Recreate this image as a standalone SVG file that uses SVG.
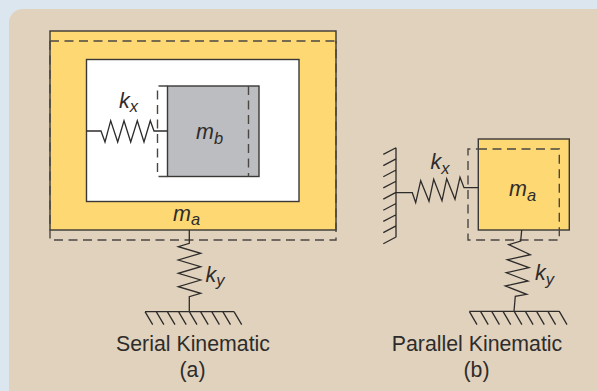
<svg xmlns="http://www.w3.org/2000/svg" width="597" height="391" viewBox="0 0 597 391">
<style>
.s{fill:none;stroke:#2e2c2b;stroke-width:1.3;stroke-linejoin:miter}
.d{fill:none;stroke:#4a4743;stroke-width:1.4;stroke-dasharray:9 5.500}
.b{stroke:#3a3836;stroke-width:1.4}
.t{font-family:"Liberation Sans",Arial,sans-serif;font-size:21.300px;fill:#2e2c2b;text-anchor:middle}
.i{font-family:"Liberation Sans",Arial,sans-serif;font-style:italic;font-size:21.500px;fill:#2e2c2b}
.u{font-size:16.500px}
</style>
<rect width="597" height="391" fill="#dce6ef"/>
<rect x="9" y="9" width="620" height="393" rx="14" fill="#e0d2bd"/>
<g id="mass-a-serial">
<rect x="50" y="31" width="286" height="199" fill="#fed873" class="b"/>
<rect x="86.500" y="59.500" width="212.500" height="142" fill="#fff" class="b"/>
<text class="i" x="173" y="220.500">m<tspan class="u" dy="4.500">a</tspan></text>
</g>
<g id="mass-b">
<rect x="167.500" y="86" width="91.500" height="90.500" fill="#bcbdc0" class="b"/>
<text class="i" x="196" y="138.500">m<tspan class="u" dy="5.500">b</tspan></text>
</g>
<g id="mass-a-parallel">
<rect x="478.300" y="139" width="91" height="91" fill="#fed873" class="b"/>
<text class="i" x="509" y="196">m<tspan class="u" dy="5">a</tspan></text>
</g>
<g id="connectors">
<path class="d" d="M50 41H336M50 41V240H336V41"/>
<path class="d" d="M167.500 86H157.500V176.500H167.500M248.500 86V176.500"/>
<path class="d" d="M478 149H559.300V240H468V149H478"/>
<path class="s" d="M86.700 131H101L105 142L110.700 120.700L117.700 142L124 120.700L130.700 142L137.300 120.700L144 142L150.300 120.700L154 131H167"/>
<path class="s" d="M189.300 230V243.300L178.300 246.700L200.700 253.300L178.300 260L200.700 266.700L178.300 273.300L200.700 280L178.300 286.700L200.700 293.300L189.300 296.700V311.700"/>
<path class="s" d="M145 311.700H234M145 311.700l7.700 13M156.200 311.700l7.700 13M167.300 311.700l7.700 13M178.500 311.700l7.700 13M189.300 311.700l7.700 13M200.500 311.700l7.700 13M211.700 311.700l7.700 13M222.800 311.700l7.700 13M234 311.700l7.700 13"/>
<path class="s" d="M396 147.700V237.300M396 147.700l-12.700 6.700M396 158.900l-12.700 6.700M396 170l-12.700 6.700M396 181.200l-12.700 6.700M396 192.400l-12.700 6.700M396 203.500l-12.700 6.700M396 214.700l-12.700 6.700M396 225.900l-12.700 6.700M396 237l-12.700 6.700"/>
<path class="s" d="M396 192.700H412.300L415.700 202.700L420.700 180.700L429 201.300L433.700 179.300L442 200.700L446.700 178.700L455 199.300L460 177.300L464 187.700H478.300"/>
<path class="s" d="M521.700 230L520.700 241L508.700 244.700L530.300 254.700L507.300 259.700L529 267.700L506.300 272.700L528 281L505.300 286L526.700 294.300L515.300 296.300L514 311.300"/>
<path class="s" d="M469.300 311.300H559.300M469.300 311.300l7.700 13.300M480.500 311.300l7.700 13.300M491.700 311.300l7.700 13.300M503 311.300l7.700 13.300M514.200 311.300l7.700 13.300M525.400 311.300l7.700 13.300M536.600 311.300l7.700 13.300M547.900 311.300l7.700 13.300M559.300 311.300l7.700 13.300"/>
</g>
<g id="labels">
<text class="i" x="119" y="107.500">k<tspan class="u" dy="4.500">x</tspan></text>
<text class="i" x="205.500" y="281.500">k<tspan class="u" dy="4.500">y</tspan></text>
<text class="i" x="430.500" y="169">k<tspan class="u" dy="4.500">x</tspan></text>
<text class="i" x="535" y="280">k<tspan class="u" dy="4.500">y</tspan></text>
<text class="t" x="193" y="350.500">Serial Kinematic</text>
<text class="t" x="192.500" y="376.500">(a)</text>
<text class="t" x="477" y="350.500">Parallel Kinematic</text>
<text class="t" x="476.500" y="376.500">(b)</text>
</g>
</svg>
